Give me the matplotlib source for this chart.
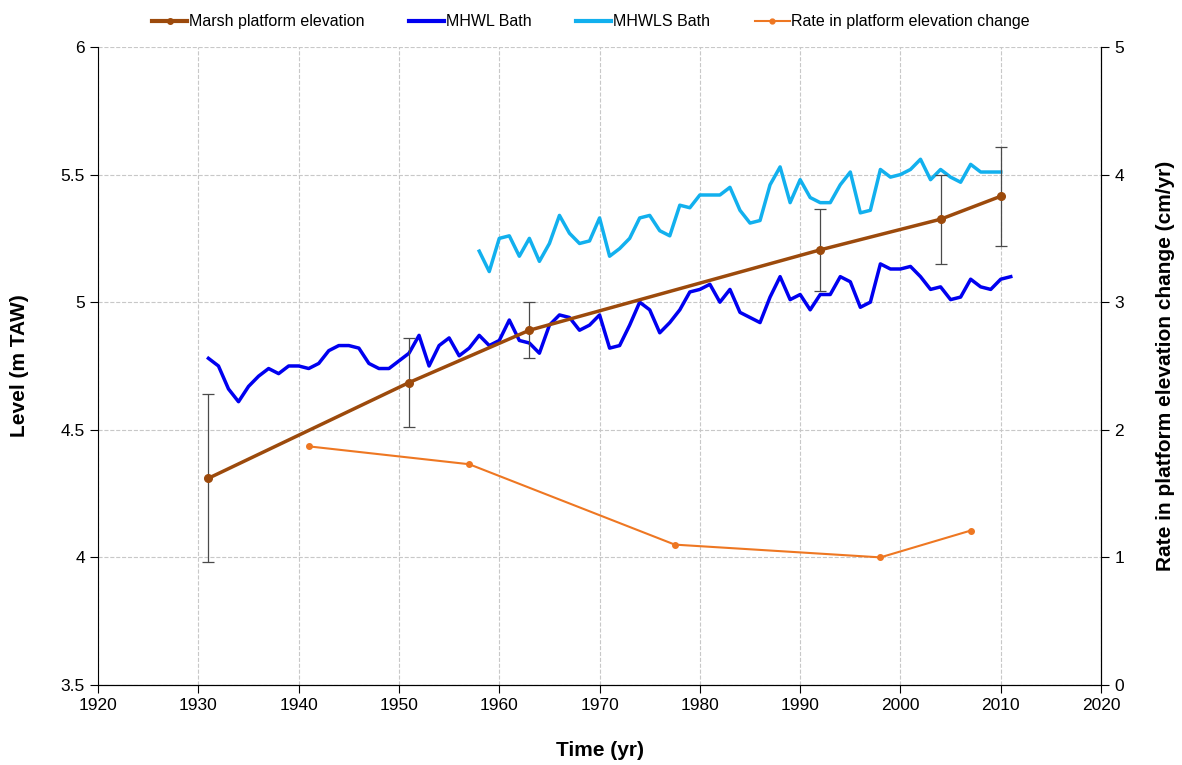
import matplotlib
matplotlib.use("Agg")
import matplotlib.pyplot as plt
from matplotlib.lines import Line2D

plt.rcParams['font.family'] = ['Liberation Sans', 'DejaVu Sans']

# MHWL Bath, annual 1931-2011
mhwl_years = list(range(1931, 2012))
mhwl = [4.78, 4.75, 4.66, 4.61, 4.67, 4.71, 4.74, 4.72, 4.75, 4.75,
        4.74, 4.76, 4.81, 4.83, 4.83, 4.82, 4.76, 4.74, 4.74, 4.77,
        4.80, 4.87, 4.75, 4.83, 4.86, 4.79, 4.82, 4.87, 4.83, 4.85,
        4.93, 4.85, 4.84, 4.80, 4.91, 4.95, 4.94, 4.89, 4.91, 4.95,
        4.82, 4.83, 4.91, 5.00, 4.97, 4.88, 4.92, 4.97, 5.04, 5.05,
        5.07, 5.00, 5.05, 4.96, 4.94, 4.92, 5.02, 5.10, 5.01, 5.03,
        4.97, 5.03, 5.03, 5.10, 5.08, 4.98, 5.00, 5.15, 5.13, 5.13,
        5.14, 5.10, 5.05, 5.06, 5.01, 5.02, 5.09, 5.06, 5.05, 5.09,
        5.10]

# MHWLS Bath, annual 1958-2010
mhwls_years = list(range(1958, 2011))
mhwls = [5.20, 5.12, 5.25, 5.26, 5.18, 5.25, 5.16, 5.23, 5.34, 5.27,
         5.23, 5.24, 5.33, 5.18, 5.21, 5.25, 5.33, 5.34, 5.28, 5.26,
         5.38, 5.37, 5.42, 5.42, 5.42, 5.45, 5.36, 5.31, 5.32, 5.46,
         5.53, 5.39, 5.48, 5.41, 5.39, 5.39, 5.46, 5.51, 5.35, 5.36,
         5.52, 5.49, 5.50, 5.52, 5.56, 5.48, 5.52, 5.49, 5.47, 5.54,
         5.51, 5.51, 5.51]

# Marsh platform elevation with error
marsh_years = [1931, 1951, 1963, 1992, 2004, 2010]
marsh = [4.31, 4.685, 4.89, 5.205, 5.325, 5.415]
marsh_err = [0.33, 0.175, 0.11, 0.16, 0.175, 0.195]

# Rate in platform elevation change (cm/yr)
rate_years = [1941, 1957, 1977.5, 1998, 2007]
rate = [1.87, 1.73, 1.10, 1.00, 1.21]

fig = plt.figure(figsize=(11.82, 7.65), dpi=100)
ax = fig.add_axes([0.083, 0.1046, 0.8485, 0.834])
ax2 = ax.twinx()

brown = '#9C4A0C'
ax.errorbar(marsh_years, marsh, yerr=marsh_err, fmt='none', ecolor='#4a4a4a',
            elinewidth=0.9, capsize=4, capthick=0.9, zorder=4)
l1, = ax.plot(marsh_years, marsh, color=brown, lw=2.5, marker='o', ms=5.5,
              zorder=5, label='Marsh platform elevation')
l2, = ax.plot(mhwl_years, mhwl, color='#0000F0', lw=2.5, label='MHWL Bath', zorder=3)
l3, = ax.plot(mhwls_years, mhwls, color='#12B0EE', lw=2.5, label='MHWLS Bath', zorder=3)
l4, = ax2.plot(rate_years, rate, color='#EE7722', lw=1.5, marker='o', ms=4,
               label='Rate in platform elevation change')

ax.set_xlim(1920, 2020)
ax.set_ylim(3.5, 6)
ax2.set_ylim(0, 5)
ax.set_xticks(range(1920, 2021, 10))
ax.set_yticks([3.5, 4, 4.5, 5, 5.5, 6])
ax.set_yticklabels(['3.5', '4', '4.5', '5', '5.5', '6'])
ax2.set_yticks(range(0, 6))
ax.grid(True, ls='--', color='#c8c8c8', lw=0.8)
ax.set_axisbelow(True)

for a in (ax, ax2):
    a.spines['top'].set_visible(False)
    a.tick_params(labelsize=12.5, direction='out', length=6)
ax2.spines['left'].set_visible(False)

ax.set_xlabel('Time (yr)', fontsize=15, fontweight='bold', labelpad=20)
ax.set_ylabel('Level (m TAW)', fontsize=15, fontweight='bold', labelpad=23)
ax2.set_ylabel('Rate in platform elevation change (cm/yr)', fontsize=15,
               fontweight='bold', labelpad=23)

legend_handles = [Line2D([], [], color=brown, lw=3, marker='o', ms=4),
                  Line2D([], [], color='#0000F0', lw=3),
                  Line2D([], [], color='#12B0EE', lw=3),
                  Line2D([], [], color='#EE7722', lw=1.5, marker='o', ms=3.5)]
fig.legend(legend_handles, [l1.get_label(), l2.get_label(), l3.get_label(), l4.get_label()],
           loc='upper center', ncol=4, bbox_to_anchor=(0.5, 1.0), frameon=False,
           fontsize=11.5, handlelength=2.2, columnspacing=2.8, handletextpad=0.1)

fig.savefig('out.png', dpi=100)
